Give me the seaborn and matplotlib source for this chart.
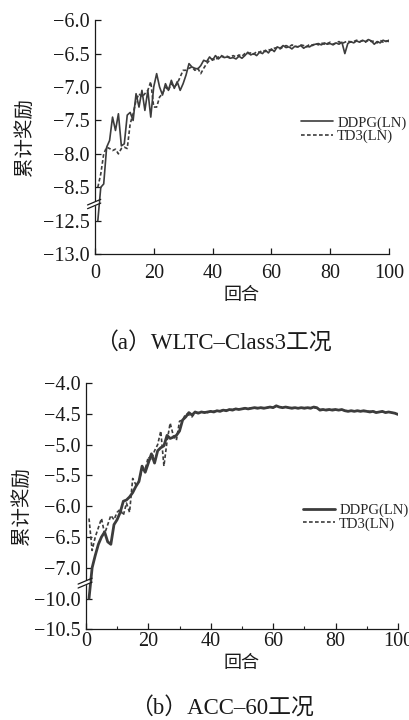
import numpy as np
import pandas as pd
import matplotlib
matplotlib.use("Agg")
import matplotlib.pyplot as plt
import seaborn as sns

# ====================== 数据 ======================
episodes = list(range(1, 101))

# (a) WLTC-Class3
ddpg_a = [-12.5, -8.5, -8.45, -7.9, -7.8, -7.45, -7.65, -7.4, -7.88, -7.85,
          -7.42, -7.38, -7.5, -7.1, -7.3, -7.05, -7.35, -7.05, -7.45, -7.0,
          -6.8, -7.0, -7.12, -6.95, -7.05, -6.9, -7.02, -6.92, -7.05, -6.95,
          -6.82, -6.65, -6.7, -6.72, -6.73, -6.68, -6.6, -6.62, -6.55, -6.6,
          -6.53, -6.58, -6.54, -6.56, -6.55, -6.57, -6.56, -6.58, -6.54, -6.57,
          -6.53, -6.48, -6.52, -6.5, -6.53, -6.48, -6.5, -6.45, -6.49, -6.43,
          -6.47, -6.4, -6.42, -6.38, -6.41, -6.4, -6.43, -6.39, -6.4, -6.38,
          -6.42, -6.39, -6.4, -6.37, -6.36, -6.35, -6.37, -6.34, -6.36, -6.35,
          -6.37, -6.34, -6.36, -6.33, -6.5, -6.35, -6.32, -6.34, -6.31, -6.33,
          -6.3, -6.32, -6.29, -6.31, -6.36, -6.32, -6.34, -6.3, -6.32, -6.3]
td3_a = [-8.5, -8.3, -8.0, -7.9, -7.92, -7.95, -7.93, -8.0, -7.92, -7.9,
         -7.92, -7.55, -7.4, -7.2, -7.1, -7.15, -7.1, -7.05, -6.92, -7.3,
         -7.3, -7.15, -7.1, -7.0, -7.05, -6.95, -7.0, -6.95, -6.85, -6.75,
         -6.75, -6.72, -6.7, -6.75, -6.72, -6.8, -6.72, -6.65, -6.6, -6.58,
         -6.6, -6.55, -6.53, -6.55, -6.54, -6.56, -6.53, -6.55, -6.52, -6.54,
         -6.5, -6.5, -6.49, -6.51, -6.47, -6.48, -6.45, -6.47, -6.44, -6.45,
         -6.42, -6.41, -6.43, -6.4, -6.38, -6.4, -6.37, -6.39, -6.4, -6.37,
         -6.38, -6.4, -6.36, -6.38, -6.35, -6.37, -6.34, -6.36, -6.35, -6.33,
         -6.36, -6.34, -6.32, -6.35, -6.33, -6.31, -6.33, -6.32, -6.3, -6.32,
         -6.31, -6.33, -6.3, -6.32, -6.31, -6.34, -6.3, -6.33, -6.31, -6.32]

# (b) ACC-60
ddpg_b = [-10.0, -7.0, -6.8, -6.62, -6.5, -6.42, -6.58, -6.62, -6.3, -6.22,
          -6.1, -5.92, -5.9, -5.85, -5.78, -5.68, -5.6, -5.35, -5.45, -5.3,
          -5.15, -5.3, -5.1, -5.05, -5.02, -4.85, -4.9, -4.88, -4.85, -4.78,
          -4.6, -4.55, -4.48, -4.52, -4.47, -4.49, -4.47, -4.48, -4.47, -4.46,
          -4.47, -4.45, -4.46, -4.44, -4.45, -4.43, -4.44, -4.42, -4.43, -4.42,
          -4.41, -4.42, -4.41, -4.4, -4.41, -4.4, -4.41, -4.4, -4.39, -4.4,
          -4.37, -4.39, -4.4, -4.39, -4.4, -4.41, -4.4, -4.41, -4.4, -4.41,
          -4.4, -4.41, -4.39, -4.4, -4.44, -4.43, -4.44, -4.43, -4.44, -4.43,
          -4.44, -4.43, -4.45, -4.46, -4.45, -4.46, -4.45, -4.46, -4.45, -4.46,
          -4.47, -4.46, -4.48, -4.47, -4.46, -4.48, -4.47, -4.48, -4.49, -4.51]
td3_b = [-6.2, -6.72, -6.5, -6.35, -6.2, -6.45, -6.3, -6.15, -6.22, -6.1,
         -6.05, -6.15, -5.95, -6.1, -5.55, -5.65, -5.6, -5.4, -5.4, -5.2,
         -5.25, -5.1, -5.0, -4.78, -5.35, -4.95, -4.65, -4.85, -4.93, -4.62,
         -4.6, -4.5, -4.52, -4.55, -4.48, -4.48, -4.47, -4.47, -4.48, -4.46,
         -4.46, -4.45, -4.45, -4.44, -4.44, -4.43, -4.43, -4.42, -4.42, -4.42,
         -4.41, -4.41, -4.41, -4.4, -4.4, -4.4, -4.4, -4.4, -4.39, -4.39,
         -4.38, -4.39, -4.39, -4.39, -4.4, -4.4, -4.4, -4.41, -4.4, -4.4,
         -4.4, -4.4, -4.4, -4.41, -4.43, -4.43, -4.43, -4.43, -4.43, -4.43,
         -4.44, -4.44, -4.45, -4.45, -4.45, -4.45, -4.45, -4.45, -4.46, -4.46,
         -4.46, -4.46, -4.47, -4.47, -4.47, -4.47, -4.47, -4.48, -4.49, -4.5]

yticks_a = [-13.0, -12.5, -8.5, -8.0, -7.5, -7.0, -6.5, -6.0]
yticks_b = [-10.5, -10.0, -7.0, -6.5, -6.0, -5.5, -5.0, -4.5, -4.0]
xticks = [0, 20, 40, 60, 80, 100]

# ====================== 样式 ======================
sns.set_style("ticks")
plt.rcParams['font.family'] = ['Liberation Serif', 'Noto Sans CJK SC']
plt.rcParams['axes.unicode_minus'] = True
LINE = '#3c3c3c'
TXT = '#1a1a1a'


def broken_scale(hi, lo):
    # 把 (lo, hi) 之间的空白段压缩掉
    gap = lo - hi  # 负数

    def fwd(y):
        y = np.asarray(y, dtype=float)
        return np.where(y >= hi, y, np.where(y <= lo, y - gap, hi))

    def inv(d):
        d = np.asarray(d, dtype=float)
        return np.where(d >= hi, d, d + gap)
    return fwd, inv


def draw_panel(ax, ddpg, td3, yticks, hi, lo, ylim, lw_ddpg, leg_xy,
               minor, xpad, ylpad):
    df1 = pd.DataFrame({'回合': episodes, 'r': ddpg})
    df2 = pd.DataFrame({'回合': episodes, 'r': td3})
    sns.lineplot(data=df1, x='回合', y='r', ax=ax, color=LINE, lw=lw_ddpg,
                 label='DDPG(LN)')
    sns.lineplot(data=df2, x='回合', y='r', ax=ax, color=LINE, lw=1.2,
                 linestyle=(0, (2.2, 1.4)), label='TD3(LN)')
    ax.set_yscale('function', functions=broken_scale(hi, lo))
    ax.set_ylim(*ylim)
    ax.set_xlim(0, 100)
    ax.set_yticks(yticks)
    ax.set_yticklabels([f"{v:.1f}".replace('-', '\u2212') for v in yticks])
    ax.set_xticks(xticks)
    if minor:
        ax.set_xticks([10, 30, 50, 70, 90], minor=True)
    ax.tick_params(direction='in', length=4, width=0.9, labelsize=14.5,
                   colors=TXT)
    ax.tick_params(axis='y', pad=4)
    ax.tick_params(axis='x', pad=xpad)
    ax.tick_params(which='minor', direction='in', length=2, width=0.8)
    sns.despine(ax=ax)
    for s in ['left', 'bottom']:
        ax.spines[s].set_color(TXT)
        ax.spines[s].set_linewidth(0.9)
    ax.set_xlabel('回合', fontsize=13, color=TXT, labelpad=3)
    ax.set_ylabel('累计奖励', fontsize=14, color=TXT, labelpad=ylpad)
    ax.legend(loc='upper left', bbox_to_anchor=leg_xy, frameon=False,
              fontsize=10.5, handlelength=2.2, handletextpad=0.3,
              labelspacing=0.0, borderpad=0, borderaxespad=0)

    # 断轴标记
    d_lo = ax.transAxes.inverted().transform(
        ax.transData.transform((0, hi)))[1]
    trans = ax.transAxes
    ax.plot([-0.006, 0.006], [d_lo - 0.004, d_lo + 0.004], color='white',
            lw=3, transform=trans, clip_on=False, zorder=5)
    for off in (-0.008, 0.008):
        ax.plot([-0.025, 0.02], [d_lo + off - 0.012, d_lo + off + 0.012],
                color=TXT, lw=0.9, transform=trans, clip_on=False, zorder=6)


fig = plt.figure(figsize=(4.09, 7.20), dpi=100)

ax1 = fig.add_axes([0.232, 0.647, 0.719, 0.325])
draw_panel(ax1, ddpg_a, td3_a, yticks_a, -8.75, -12.25, (-13.0, -6.0),
           1.2, (0.70, 0.59), False, 7, 6)
fig.text(0.521, 1 - 343 / 720, '（a）WLTC\u2013Class3工况', ha='center',
         va='center', fontsize=16.5, color=TXT)

ax2 = fig.add_axes([0.210, 0.126, 0.763, 0.342])
draw_panel(ax2, ddpg_b, td3_b, yticks_b, -7.25, -9.75, (-10.5, -4.0),
           2.0, (0.695, 0.51), True, 2, 2)
fig.text(0.543, 1 - 708 / 720, '（b）ACC\u201360工况', ha='center',
         va='center', fontsize=16.5, color=TXT)

fig.savefig('out.png', dpi=100, facecolor='white')
